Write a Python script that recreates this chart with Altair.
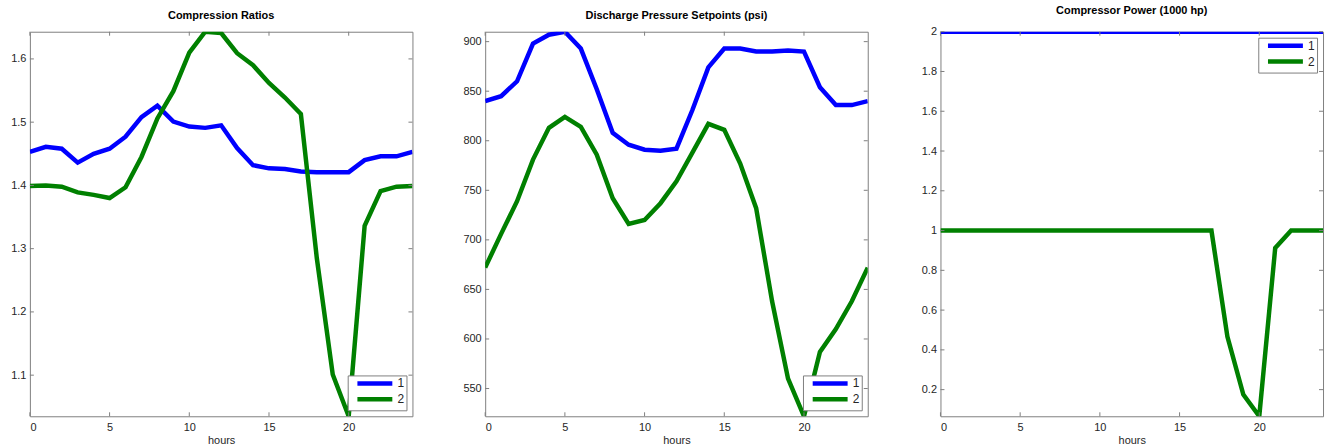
import altair as alt
import pandas as pd

# Hourly profiles for the two compressor stations
hours = list(range(25))

ratio_1 = [1.453, 1.461, 1.458, 1.436, 1.450, 1.458, 1.477, 1.508, 1.526, 1.501,
           1.493, 1.491, 1.495, 1.459, 1.432, 1.427, 1.426, 1.422, 1.421, 1.421,
           1.421, 1.440, 1.446, 1.446, 1.453]
ratio_2 = [1.399, 1.400, 1.398, 1.389, 1.385, 1.380, 1.397, 1.445, 1.506, 1.549,
           1.610, 1.643, 1.641, 1.609, 1.590, 1.562, 1.539, 1.513, 1.285, 1.101,
           1.035, 1.336, 1.391, 1.398, 1.399]

pressure_1 = [840, 845, 860, 898, 907, 910, 893, 852, 808, 796,
              791, 790, 792, 831, 874, 893, 893, 890, 890, 891,
              890, 854, 836, 836, 840]
pressure_2 = [672, 706, 739, 781, 813, 824, 814, 786, 742, 716,
              720, 737, 759, 788, 817, 811, 777, 732, 638, 560,
              522, 587, 610, 638, 672]

power_1 = [2.0] * 25
power_2 = [1.0] * 18 + [0.467, 0.175, 0.066, 0.912, 1.0, 1.0, 1.0]

x_ticks = [0, 5, 10, 15, 20]
ratio_ticks = [1.1, 1.2, 1.3, 1.4, 1.5, 1.6]
pressure_ticks = [550, 600, 650, 700, 750, 800, 850, 900]
power_ticks = [0.2, 0.4, 0.6, 0.8, 1, 1.2, 1.4, 1.6, 1.8, 2]

series_names = ["1", "2"]
series_colors = ["#0000ff", "#008000"]

W, H = 384, 386
TICK = 4
FRAME = "#808080"
TEXT = "#262626"
FONT = "Liberation Sans"
PLAIN = "'' + datum.value"


def panel(title, s1, s2, y_ticks, legend_orient):
    df = pd.DataFrame({
        "hour": hours + hours,
        "value": s1 + s2,
        "series": [series_names[0]] * len(hours) + [series_names[1]] * len(hours),
    })
    lo, hi = min(s1 + s2), max(s1 + s2)
    x_scale = alt.Scale(domain=[0, 24], nice=False, zero=False)
    y_scale = alt.Scale(domain=[lo, hi], nice=False, zero=False)

    x_enc = alt.X("hour:Q", scale=x_scale,
                  axis=alt.Axis(values=x_ticks, ticks=False, domain=False, grid=False,
                                title="hours", labelPadding=5, titlePadding=2,
                                labelExpr=PLAIN))
    y_enc = alt.Y("value:Q", scale=y_scale,
                  axis=alt.Axis(values=y_ticks, ticks=False, domain=False, grid=False,
                                title=None, labelPadding=4, labelExpr=PLAIN,
                                minExtent=26, maxExtent=26))

    lines = alt.Chart(df).mark_line(strokeWidth=4.5, clip=True).encode(
        x=x_enc,
        y=y_enc,
        color=alt.Color("series:N",
                        scale=alt.Scale(domain=series_names, range=series_colors),
                        legend=alt.Legend(title=None, orient=legend_orient, offset=6,
                                          symbolType="M0.875,0H18.4", symbolSize=16,
                                          symbolStrokeWidth=4.5, labelFontSize=12,
                                          labelFont=FONT, labelColor=TEXT,
                                          fillColor="white", strokeColor=FRAME,
                                          padding=2, rowPadding=-2, labelOffset=36)),
    )

    ydf = pd.DataFrame({"value": y_ticks})
    xdf = pd.DataFrame({"hour": x_ticks})

    # inward tick marks on all four sides of the frame
    left = alt.Chart(ydf).mark_rule(color=FRAME).encode(
        y=y_enc, x=alt.value(0), x2=alt.value(TICK))
    right = alt.Chart(ydf).mark_rule(color=FRAME).encode(
        y=y_enc, x=alt.value(W - TICK), x2=alt.value(W))
    bottom = alt.Chart(xdf).mark_rule(color=FRAME).encode(
        x=x_enc, y=alt.value(H - TICK), y2=alt.value(H))
    top = alt.Chart(xdf).mark_rule(color=FRAME).encode(
        x=x_enc, y=alt.value(0), y2=alt.value(TICK))

    return alt.layer(lines, left, right, bottom, top).properties(
        width=W, height=H,
        title=alt.TitleParams(title, fontSize=11, fontWeight="bold", font=FONT,
                              color="black", anchor="middle", baseline="alphabetic",
                              frame="group", offset=1),
    )


chart = alt.hconcat(
    panel("Compression Ratios", ratio_1, ratio_2, ratio_ticks, "bottom-right"),
    panel("Discharge Pressure Setpoints (psi)", pressure_1, pressure_2, pressure_ticks, "bottom-right"),
    panel("Compressor Power (1000 hp)", power_1, power_2, power_ticks, "top-right"),
    spacing=45,
).resolve_scale(
    x="independent", y="independent", color="independent"
).resolve_legend(
    color="independent"
).properties(
    padding={"left": 3, "top": 3, "right": 6, "bottom": 2},
    background="white",
).configure_view(
    stroke=FRAME, strokeWidth=1
).configure_axis(
    labelFont=FONT, labelFontSize=11, labelColor=TEXT,
    titleFont=FONT, titleFontSize=11, titleFontWeight="normal", titleColor=TEXT,
)

chart.save("out.html", embed_options={"renderer": "svg", "actions": False})
